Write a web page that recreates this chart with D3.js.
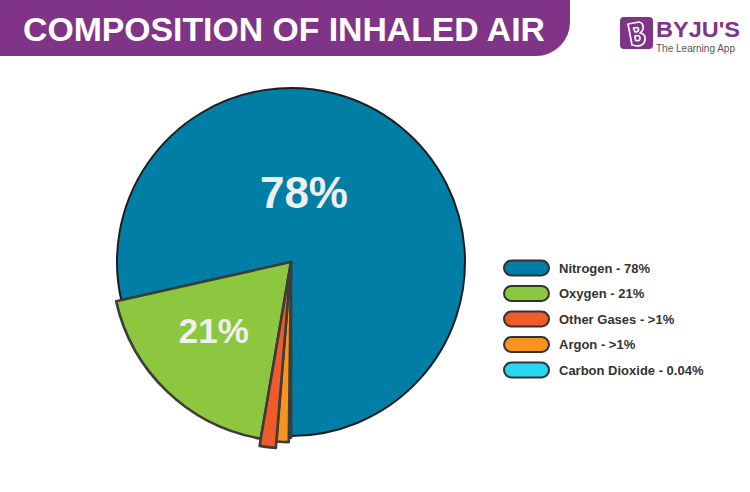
<!DOCTYPE html>
<html>
<head>
<meta charset="utf-8">
<script src="https://cdn.jsdelivr.net/npm/d3@7"></script>
<style>
  html, body { margin: 0; padding: 0; background: #ffffff; }
  svg { display: block; }
</style>
</head>
<body>
<svg id="chart" width="750" height="492"></svg>
<script>
// ---- data ----
const title = "COMPOSITION OF INHALED AIR";
const categories = ["Nitrogen", "Oxygen", "Other Gases", "Argon", "Carbon Dioxide"];
const legendLabels = ["Nitrogen - 78%", "Oxygen - 21%", "Other Gases - >1%", "Argon - >1%", "Carbon Dioxide - 0.04%"];
// slice sizes (percent of the full circle)
const values = [78.5, 18.8, 1.4, 1.1, 0.2];
const sliceLabels = ["78%", "21%", "", "", ""];
// clockwise drawing order of the slices around the pie
const drawOrder = ["Oxygen", "Nitrogen", "Carbon Dioxide", "Argon", "Other Gases"];

// ---- styles ----
const colors = {
  "Nitrogen": "#017ea5",
  "Oxygen": "#8dc63f",
  "Other Gases": "#f15a29",
  "Argon": "#f7941d",
  "Carbon Dioxide": "#27d6f2"
};
const radiusScale = { "Nitrogen": 1.0, "Oxygen": 1.03, "Other Gases": 1.072, "Argon": 1.035, "Carbon Dioxide": 1.01 };
const labelStyle = {
  "Nitrogen": { angle: 10.5, r: 71, size: 44 },
  "Oxygen": { angle: 228.5, r: 103, size: 35 }
};
const purple = "#7f3487";

const svg = d3.select("#chart");

// ---- title banner ----
svg.append("rect")
  .attr("x", -40).attr("y", -40)
  .attr("width", 610).attr("height", 96)
  .attr("rx", 34).attr("ry", 34)
  .attr("fill", purple);
svg.append("text")
  .attr("x", 23).attr("y", 41)
  .attr("font-family", "'Liberation Sans', Arial, sans-serif")
  .attr("font-weight", "bold")
  .attr("font-size", 34)
  .attr("fill", "#ffffff")
  .attr("textLength", 522)
  .attr("lengthAdjust", "spacingAndGlyphs")
  .text(title);

// ---- logo ----
const logo = svg.append("g");
logo.append("rect")
  .attr("x", 620).attr("y", 17).attr("width", 33).attr("height", 32)
  .attr("rx", 4).attr("fill", purple);
logo.append("path")
  .attr("d", "M628,24 L639,22 Q644,23 643,29 Q642,32 640,33 Q646,34 645,40 Q644,46 637,46 L632,45 Z M633.5,28 L637,27.5 Q639,28 638.5,30 Q638,32 635,32 Z M635,36 L638,35.5 Q640,36 640,38.5 Q639.5,41 637,40.7 L635.5,40.5 Z")
  .attr("fill", "none")
  .attr("stroke", "#ffffff")
  .attr("stroke-width", 1.7)
  .attr("stroke-linejoin", "round");
logo.append("text")
  .attr("x", 656).attr("y", 37)
  .attr("font-family", "'Liberation Sans', Arial, sans-serif")
  .attr("font-weight", "bold")
  .attr("font-size", 22)
  .attr("fill", purple)
  .attr("textLength", 84)
  .attr("lengthAdjust", "spacingAndGlyphs")
  .text("BYJU'S");
logo.append("text")
  .attr("x", 656).attr("y", 51.5)
  .attr("font-family", "'Liberation Sans', Arial, sans-serif")
  .attr("font-size", 11)
  .attr("fill", "#555555")
  .attr("textLength", 79)
  .attr("lengthAdjust", "spacingAndGlyphs")
  .text("The Learning App");

// ---- pie ----
const cx = 291, cy = 262, R = 174;
const data = categories.map((c, i) => ({ name: c, value: values[i], label: sliceLabels[i], legend: legendLabels[i] }));
const startDeg = 189.7;
const pie = d3.pie()
  .value(d => d.value)
  .sort((a, b) => drawOrder.indexOf(a.name) - drawOrder.indexOf(b.name))
  .startAngle(startDeg * Math.PI / 180)
  .endAngle((startDeg + 360) * Math.PI / 180);
const arcs = pie(data);

const g = svg.append("g").attr("transform", `translate(${cx},${cy})`);
const arcGen = d3.arc().innerRadius(0).outerRadius(d => R * radiusScale[d.data.name]);

// draw nitrogen first, then the rest on top
const paintOrder = ["Nitrogen", "Oxygen", "Carbon Dioxide", "Argon", "Other Gases"];
const sorted = arcs.slice().sort((a, b) => paintOrder.indexOf(a.data.name) - paintOrder.indexOf(b.data.name));
g.selectAll("path.slice")
  .data(sorted)
  .join("path")
  .attr("class", "slice")
  .attr("d", arcGen)
  .attr("fill", d => colors[d.data.name])
  .attr("stroke", d => d.data.name === "Nitrogen" ? "#1e1e1e" : "#3c3c3c")
  .attr("stroke-width", d => d.data.name === "Nitrogen" ? 2 : 2.6)
  .attr("stroke-linejoin", "round");

// slice labels
g.selectAll("text.slabel")
  .data(arcs.filter(d => d.data.label))
  .join("text")
  .attr("class", "slabel")
  .attr("x", d => labelStyle[d.data.name].r * Math.sin(labelStyle[d.data.name].angle * Math.PI / 180))
  .attr("y", d => -labelStyle[d.data.name].r * Math.cos(labelStyle[d.data.name].angle * Math.PI / 180))
  .attr("text-anchor", "middle")
  .attr("dominant-baseline", "central")
  .attr("font-family", "'Liberation Sans', Arial, sans-serif")
  .attr("font-weight", "bold")
  .attr("font-size", d => labelStyle[d.data.name].size)
  .attr("fill", "#eef0f0")
  .text(d => d.data.label);

// ---- legend ----
const legendY = d3.scalePoint().domain(categories).range([268, 370]);
const leg = svg.append("g");
const rows = leg.selectAll("g.row").data(data).join("g")
  .attr("class", "row")
  .attr("transform", d => `translate(0,${legendY(d.name)})`);
rows.append("rect")
  .attr("x", 504).attr("y", -7.5)
  .attr("width", 45).attr("height", 15)
  .attr("rx", 7.5).attr("ry", 7.5)
  .attr("fill", d => colors[d.name])
  .attr("stroke", "#333333")
  .attr("stroke-width", 2);
rows.append("text")
  .attr("x", 559).attr("y", 0)
  .attr("dominant-baseline", "central")
  .attr("font-family", "'Liberation Sans', Arial, sans-serif")
  .attr("font-weight", "bold")
  .attr("font-size", 13)
  .attr("fill", "#333333")
  .text(d => d.legend);
</script>
</body>
</html>
